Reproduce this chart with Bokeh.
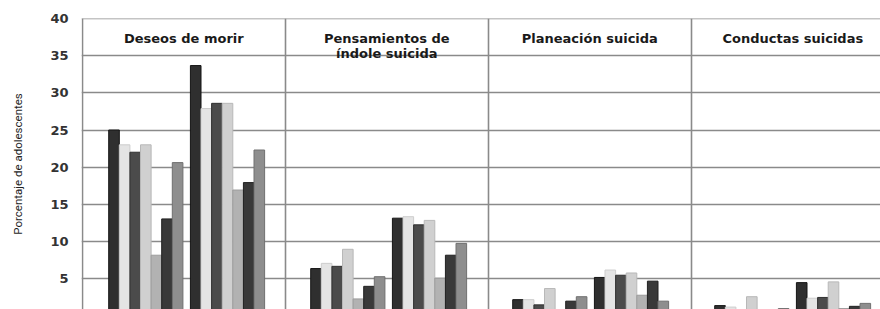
from bokeh.plotting import figure
from bokeh.models import Range1d, FixedTicker, ColumnDataSource
from bokeh.embed import file_html
from bokeh.resources import INLINE
from bokeh.core.properties import value

# ---------------- data ----------------
panel_titles = ["Deseos de morir", "Pensamientos de\níndole suicida",
                "Planeación suicida", "Conductas suicidas"]
y_ticks = [5, 10, 15, 20, 25, 30, 35, 40]
y_label = "Porcentaje de adolescentes"

# 7 bars per group, 2 groups per panel
deseos_g1 = [25.0, 23.0, 22.0, 23.0, 8.1, 13.0, 20.6]
deseos_g2 = [33.7, 27.9, 28.6, 28.6, 16.9, 17.9, 22.3]
pensamientos_g1 = [6.3, 7.0, 6.6, 8.9, 2.2, 3.9, 5.2]
pensamientos_g2 = [13.1, 13.3, 12.2, 12.8, 5.0, 8.1, 9.7]
planeacion_g1 = [2.1, 2.1, 1.4, 3.6, 0.5, 1.9, 2.5]
planeacion_g2 = [5.1, 6.1, 5.4, 5.7, 2.7, 4.6, 1.9]
conductas_g1 = [1.3, 1.1, 0.4, 2.5, 0.3, 0.5, 0.9]
conductas_g2 = [4.4, 2.3, 2.4, 4.5, 0.9, 1.2, 1.6]

panel_groups = [
    (deseos_g1, deseos_g2),
    (pensamientos_g1, pensamientos_g2),
    (planeacion_g1, planeacion_g2),
    (conductas_g1, conductas_g2),
]

# ---------------- style ----------------
fills = ["#2f2f2f", "#e4e4e4", "#4b4b4b", "#d0d0d0", "#b2b2b2", "#393939", "#8e8e8e"]
lines = ["#151515", "#cdcdcd", "#303030", "#b8b8b8", "#9c9c9c", "#202020", "#707070"]
grid_col = "#8a8a8a"

PANEL_PX = 203.0
BAR_STEP_PX = 202.0
PX_PER_UNIT = 7.409
W, H = 880, 309
LEFT, TOP = 81, 18
frame_w = W - LEFT
x0 = -0.004
x1 = x0 + frame_w / PANEL_PX
y1 = 40.05
y0 = y1 - (H - TOP) / PX_PER_UNIT

group_off_px = [63.5, 145.2]
bar_w = 10.6 / PANEL_PX

xs, tops, fc, lc = [], [], [], []
for pi, groups in enumerate(panel_groups):
    for gi, vals in enumerate(groups):
        for k, v in enumerate(vals):
            xs.append((pi * BAR_STEP_PX + group_off_px[gi]) / PANEL_PX + (k - 3) * bar_w)
            tops.append(v)
            fc.append(fills[k])
            lc.append(lines[k])

src = ColumnDataSource(dict(x=xs, top=tops, fc=fc, lc=lc))

p = figure(width=W, height=H, output_backend="svg", toolbar_location=None,
           x_range=Range1d(x0, x1), y_range=Range1d(y0, y1),
           min_border_left=LEFT, min_border_right=0,
           min_border_top=TOP, min_border_bottom=0)
p.outline_line_color = None
p.background_fill_color = "white"
p.border_fill_color = "white"

p.xaxis.visible = False

yax = p.yaxis[0]
yax.ticker = FixedTicker(ticks=y_ticks)
yax.axis_line_color = None
yax.major_tick_line_color = None
yax.minor_tick_line_color = None
yax.major_tick_out = 0
yax.major_tick_in = 0
yax.major_label_standoff = 13
yax.major_label_text_font = "DejaVu Sans"
yax.major_label_text_font_style = "bold"
yax.major_label_text_font_size = "13px"
yax.major_label_text_color = "#333333"
yax.axis_label = y_label
yax.axis_label_text_font = "Roboto"
yax.axis_label_text_font_style = "normal"
yax.axis_label_text_font_size = "11.5px"
yax.axis_label_text_color = "#1e1e1e"
yax.axis_label_standoff = 22

p.xgrid.ticker = FixedTicker(ticks=list(range(len(panel_titles) + 1)))
p.xgrid.grid_line_color = grid_col
p.xgrid.grid_line_width = 1.6
p.ygrid.ticker = FixedTicker(ticks=y_ticks)
p.ygrid.grid_line_color = grid_col
p.ygrid.grid_line_width = 1.6

p.vbar(x="x", top="top", bottom=0, width=bar_w, fill_color="fc",
       line_color="lc", line_width=1, source=src)

tsrc = ColumnDataSource(dict(x=[i + 0.5 for i in range(len(panel_titles))],
                             y=[38.3] * len(panel_titles), t=panel_titles))
p.text(x="x", y="y", text="t", source=tsrc, text_align="center",
       text_baseline="top", text_font=value("DejaVu Sans"),
       text_font_style="bold", text_font_size="13px", text_color="#1a1a1a",
       text_line_height=1.0)

open("out.html", "w").write(file_html(p, INLINE))
